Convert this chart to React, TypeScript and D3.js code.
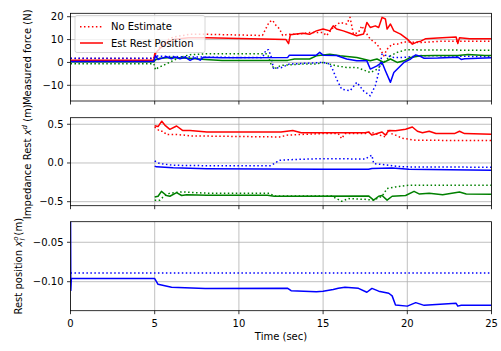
import React from 'react';
import * as d3 from 'd3';

type Pt = [number, number];

// x axis
const timeTicks = [0, 5, 10, 15, 20, 25];

// panel 1: measured force (N)
const forceTicks = [-10, 0, 10, 20];
const forceRedDot: Pt[] = [[0,1.7],[4.95,1.7],[5.0,3.0],[5.3,6.7],[5.7,9.6],[6.1,11.1],[7.1,12.3],[8.1,12.3],[10,12],[11.4,11.8],[11.6,14.8],[11.8,17.7],[12.0,18.4],[12.2,16.2],[12.4,14.8],[12.6,11.8],[12.9,12.3],[13.6,12.4],[14.2,13.1],[15.0,13.1],[15.2,11.7],[15.6,15.3],[16.0,17.5],[16.4,16.8],[16.6,19.7],[16.8,12.4],[17.1,13.1],[17.3,16.0],[17.5,13.5],[17.8,10.2],[18.2,8.0],[18.4,5.8],[18.6,2.9],[18.8,5.8],[19.1,8.0],[19.4,8.0],[19.8,9.0],[20.8,8.7],[22,9.3],[25,9.3]];
const forceRedEst: Pt[] = [[0,1.0],[4.95,1.0],[5.0,3.8],[5.3,6],[5.7,8.5],[6.1,10],[7,10.8],[8.1,10.8],[10,10.5],[12.8,10],[12.95,8.2],[13.05,12.1],[13.4,12.4],[13.8,12.8],[14.2,12.3],[14.6,13.8],[15.0,14.6],[15.4,13.8],[15.6,16.0],[15.8,14.6],[16.2,13.8],[16.6,12.8],[17.0,11.7],[17.4,12.4],[17.6,17.5],[17.8,15.3],[18.1,16.0],[18.3,15.3],[18.5,19.7],[18.7,19.0],[18.8,14.6],[19.0,16.8],[19.2,13.8],[19.6,12.4],[20.0,10.2],[20.3,8.0],[20.6,9.0],[20.8,9.3],[21.1,10.4],[21.8,10.7],[22.9,11.1],[23.0,8.3],[23.1,10.8],[23.7,10.4],[25,10.4]];
const forceGreenDot: Pt[] = [[0,-0.6],[4.95,-0.6],[5.05,-3.2],[5.2,-2.3],[5.5,-1.3],[5.9,0.1],[6.3,1.6],[6.7,2.6],[7.1,3.4],[8.1,3.8],[11.7,3.8],[11.9,-0.6],[12.1,-2.8],[12.5,-1.3],[13.7,-0.7],[14.6,-0.7],[15.0,0],[15.8,-1.5],[16.4,-2.2],[17.0,-2.2],[17.8,-4.4],[18.2,-3.0],[18.6,0],[19.0,2.9],[19.4,4.4],[19.9,5.5],[20.5,5.5],[25,5.3]];
const forceGreenEst: Pt[] = [[0,0.3],[4.95,0.3],[5.05,1.2],[5.3,1.8],[6,2.2],[7,1.8],[8,1.3],[9,0.9],[12.9,0.9],[13.3,1.5],[14.2,1.5],[14.6,2.9],[15.4,3.6],[16.0,2.9],[17.0,2.2],[17.8,0.7],[18.2,1.5],[18.6,0],[19.0,1.5],[19.4,0],[19.8,0.7],[20.2,2.2],[20.8,2.9],[21.6,3.0],[23,3],[23.6,3.5],[24.6,3],[25,3]];
const forceBlueDot: Pt[] = [[0,1.8],[4.95,1.8],[5.05,2.8],[6,2.6],[8,2.3],[11.4,2.1],[11.6,5.3],[11.75,5.6],[11.9,3],[12.05,-2.5],[12.5,-2.3],[13.0,-0.7],[15.0,0],[15.4,-0.7],[15.6,-3.6],[15.8,-7.3],[16.1,-11.7],[16.6,-12.4],[17.0,-8.7],[17.4,-12.4],[17.8,-14.6],[18.1,-10.2],[18.3,-4.4],[18.5,3.6],[18.8,2.9],[19.2,2.2],[19.8,2.2],[20.8,3.0],[25,2.5]];
const forceBlueEst: Pt[] = [[0,0.4],[4.95,0.4],[5.05,3.0],[5.2,1.3],[5.5,2.0],[5.7,2.5],[6.0,1.6],[6.2,2.4],[6.5,1.6],[6.8,2.3],[7.1,0.9],[7.4,2.0],[7.7,1.0],[7.9,2.3],[9,2.0],[12.9,2.2],[13.0,3.2],[14.6,3.2],[14.8,4.4],[15.0,3.2],[15.8,3.0],[16.4,1.5],[17.0,0.7],[17.6,0.7],[17.8,-2.9],[18.2,-1.5],[18.5,0],[18.7,-3.6],[19.0,-8.7],[19.2,-4.4],[19.5,-2.2],[19.8,0],[20.2,1.5],[20.5,3.3],[20.8,2.6],[21.0,1.8],[21.8,1.9],[23.0,2.3],[23.2,1.3],[23.4,1.6],[25,2.0]];

// panel 2: impedance rest x^d (m)
const restTicks = [-0.5, 0.0, 0.5];
const restRedDot: Pt[] = [[5.0,0.465],[5.3,0.41],[5.5,0.41],[5.7,0.367],[6.3,0.367],[6.9,0.357],[7.1,0.35],[12.4,0.336],[12.9,0.36],[14.9,0.38],[15.9,0.38],[16.1,0.315],[16.3,0.38],[17.5,0.38],[17.8,0.40],[18.7,0.336],[18.9,0.44],[19.05,0.38],[19.3,0.36],[19.7,0.32],[20.5,0.293],[25,0.29]];
const restRedEst: Pt[] = [[5.0,0.48],[5.2,0.47],[5.42,0.54],[5.6,0.49],[5.9,0.435],[6.3,0.478],[6.65,0.42],[7.1,0.42],[8.1,0.40],[12.5,0.40],[13.2,0.42],[13.7,0.39],[17.5,0.39],[17.7,0.40],[17.9,0.36],[18.2,0.38],[18.5,0.40],[18.7,0.36],[18.9,0.42],[19.3,0.415],[19.9,0.435],[20.3,0.465],[20.6,0.41],[20.9,0.39],[21.3,0.41],[21.7,0.38],[22.8,0.38],[23.1,0.41],[23.4,0.38],[25,0.37]];
const restBlueDot: Pt[] = [[5.0,0.026],[5.3,-0.008],[6.1,-0.03],[8.1,-0.035],[11.9,-0.035],[12.4,0.035],[13.1,0.043],[14.9,0.056],[16.5,0.056],[16.7,0.05],[17.5,0.05],[17.7,0.078],[17.9,0.10],[18.0,-0.008],[18.5,-0.02],[19.1,-0.035],[19.7,-0.05],[25,-0.055]];
const restBlueEst: Pt[] = [[5.0,-0.04],[5.1,-0.05],[6.1,-0.063],[8.1,-0.073],[14.9,-0.08],[17.7,-0.08],[17.9,-0.07],[19.1,-0.065],[20.1,-0.08],[25,-0.094]];
const restGreenDot: Pt[] = [[5.0,-0.48],[5.3,-0.48],[5.6,-0.42],[5.9,-0.39],[6.6,-0.374],[8.1,-0.39],[11.8,-0.39],[12.1,-0.426],[15.5,-0.426],[16.1,-0.495],[16.5,-0.46],[17.5,-0.47],[18.0,-0.48],[18.5,-0.43],[18.8,-0.33],[19.3,-0.31],[20.1,-0.288],[25,-0.288]];
const restGreenEst: Pt[] = [[5.0,-0.44],[5.2,-0.43],[5.4,-0.366],[5.7,-0.42],[5.9,-0.43],[6.3,-0.383],[6.6,-0.42],[6.9,-0.41],[8.1,-0.417],[11.7,-0.417],[12.1,-0.43],[17.7,-0.426],[18.0,-0.48],[18.3,-0.43],[18.5,-0.42],[18.8,-0.48],[19.1,-0.43],[19.9,-0.42],[20.4,-0.366],[20.7,-0.40],[21.3,-0.39],[22.1,-0.41],[23.1,-0.374],[23.5,-0.40],[25,-0.405]];

// panel 3: rest position x_l^o (m)
const posTicks = [-0.05, -0.10];
const posDot: Pt[] = [[0,-0.089],[25,-0.089]];
const posEst: Pt[] = [[0,0],[0.02,-0.111],[0.05,-0.096],[5.0,-0.096],[5.2,-0.1033],[6,-0.107],[8,-0.1085],[12.9,-0.1084],[13.1,-0.1114],[14.6,-0.1127],[15,-0.112],[15.6,-0.110],[15.9,-0.1084],[16.3,-0.107],[17.1,-0.1084],[17.6,-0.1134],[17.9,-0.1085],[18.3,-0.112],[18.9,-0.1147],[19.1,-0.118],[19.3,-0.1296],[20,-0.131],[20.5,-0.1266],[21,-0.130],[22.9,-0.1274],[23,-0.131],[23.2,-0.130],[25,-0.130]];

const W = 501;
const H = 351;
const left = 70.5;
const right = 491.5;
const font = 'DejaVu Sans, sans-serif';
const RED = '#ff0000';
const GREEN = '#008000';
const BLUE = '#0000ff';
const DOT = '1.5,2.475';

const x = d3.scaleLinear().domain([0, 25]).range([left, right]);

interface Series { data: Pt[]; color: string; dotted: boolean; }

interface PanelProps {
  id: string;
  top: number;
  bottom: number;
  domain: [number, number];
  ticks: number[];
  fmt: (v: number) => string;
  series: Series[];
  showX?: boolean;
  children?: React.ReactNode;
}

const Panel: React.FC<PanelProps> = ({ id, top, bottom, domain, ticks, fmt, series, showX, children }) => {
  const y = d3.scaleLinear().domain(domain).range([bottom, top]);
  const line = d3.line<Pt>().x(d => x(d[0])).y(d => y(d[1]));
  return (
    <g>
      <defs>
        <clipPath id={id}>
          <rect x={left} y={top} width={right - left} height={bottom - top} />
        </clipPath>
      </defs>
      {/* grid */}
      {timeTicks.map(t => (
        <line key={'gx' + t} x1={x(t)} x2={x(t)} y1={top} y2={bottom} stroke="#b0b0b0" strokeWidth={0.8} />
      ))}
      {ticks.map(t => (
        <line key={'gy' + t} x1={left} x2={right} y1={y(t)} y2={y(t)} stroke="#b0b0b0" strokeWidth={0.8} />
      ))}
      <g clipPath={`url(#${id})`}>
        {series.map((s, i) => (
          <path key={i} d={line(s.data) || ''} fill="none" stroke={s.color} strokeWidth={1.5}
            strokeDasharray={s.dotted ? DOT : undefined} strokeLinejoin="round" />
        ))}
      </g>
      {children}
      <rect x={left} y={top} width={right - left} height={bottom - top} fill="none" stroke="#000" strokeWidth={0.8} />
      {/* ticks */}
      {timeTicks.map(t => (
        <line key={'tx' + t} x1={x(t)} x2={x(t)} y1={bottom} y2={bottom + 3.5} stroke="#000" strokeWidth={0.8} />
      ))}
      {ticks.map(t => (
        <g key={'ty' + t}>
          <line x1={left - 3.5} x2={left} y1={y(t)} y2={y(t)} stroke="#000" strokeWidth={0.8} />
          <text x={left - 7} y={y(t)} dy="0.35em" textAnchor="end" fontSize={10} fontFamily={font}>{fmt(t)}</text>
        </g>
      ))}
      {showX && timeTicks.map(t => (
        <text key={'lx' + t} x={x(t)} y={327.3} textAnchor="middle" fontSize={10} fontFamily={font}>{t}</text>
      ))}
    </g>
  );
};

const minus = (s: string) => s.replace('-', '\u2212');

const App: React.FC = () => {
  return (
    <svg width={W} height={H} style={{ position: 'absolute', left: 0, top: 0, background: '#fff' }}>
      <Panel id="c1" top={13.3} bottom={101} domain={[-16.86, 21.49]} ticks={forceTicks}
        fmt={v => minus(d3.format('d')(v))}
        series={[
          { data: forceRedDot, color: RED, dotted: true },
          { data: forceGreenDot, color: GREEN, dotted: true },
          { data: forceBlueDot, color: BLUE, dotted: true },
          { data: forceRedEst, color: RED, dotted: false },
          { data: forceGreenEst, color: GREEN, dotted: false },
          { data: forceBlueEst, color: BLUE, dotted: false },
        ]}>
        <g>
          <rect x={75} y={15.5} width={130} height={37} rx={2} fill="#fff" fillOpacity={0.8} stroke="#cccccc" strokeWidth={0.8} />
          <line x1={80} x2={103} y1={26.7} y2={26.7} stroke={RED} strokeWidth={1.5} strokeDasharray={DOT} />
          <text x={111} y={30.3} fontSize={10} fontFamily={font}>No Estimate</text>
          <line x1={80} x2={103} y1={43} y2={43} stroke={RED} strokeWidth={1.5} />
          <text x={111} y={47} fontSize={10} fontFamily={font}>Est Rest Position</text>
        </g>
      </Panel>
      <Panel id="c2" top={117.7} bottom={205.7} domain={[-0.552, 0.585]} ticks={restTicks}
        fmt={v => minus(d3.format('.1f')(v))}
        series={[
          { data: restRedDot, color: RED, dotted: true },
          { data: restGreenDot, color: GREEN, dotted: true },
          { data: restBlueDot, color: BLUE, dotted: true },
          { data: restRedEst, color: RED, dotted: false },
          { data: restGreenEst, color: GREEN, dotted: false },
          { data: restBlueEst, color: BLUE, dotted: false },
        ]} />
      <Panel id="c3" top={221.7} bottom={310.7} domain={[-0.1368, -0.0239]} ticks={posTicks}
        fmt={v => minus(d3.format('.2f')(v))}
        series={[
          { data: posDot, color: BLUE, dotted: true },
          { data: posEst, color: BLUE, dotted: false },
        ]} showX />

      {/* axis labels */}
      <text transform={`translate(31,57.2) rotate(-90)`} textAnchor="middle" fontSize={10} fontFamily={font}>Measured force (N)</text>
      <text transform={`translate(30.5,161.7) rotate(-90)`} textAnchor="middle" fontSize={10} fontFamily={font}>
        Impedance Rest <tspan fontStyle="italic">x</tspan><tspan fontSize={7} dy={-4} fontStyle="italic">d</tspan><tspan dy={4}> (m)</tspan>
      </text>
      <text transform={`translate(22,266.2) rotate(-90)`} textAnchor="middle" fontSize={10} fontFamily={font}>
        Rest position <tspan fontStyle="italic">x</tspan><tspan fontSize={7} dy={-4} fontStyle="italic">o</tspan><tspan fontSize={7} dx={-4} dy={6.5} fontStyle="italic">l</tspan><tspan dy={-2.5}> (m)</tspan>
      </text>
      <text x={x(12.5)} y={340} textAnchor="middle" fontSize={10} fontFamily={font}>Time (sec)</text>
    </svg>
  );
};

export default App;
